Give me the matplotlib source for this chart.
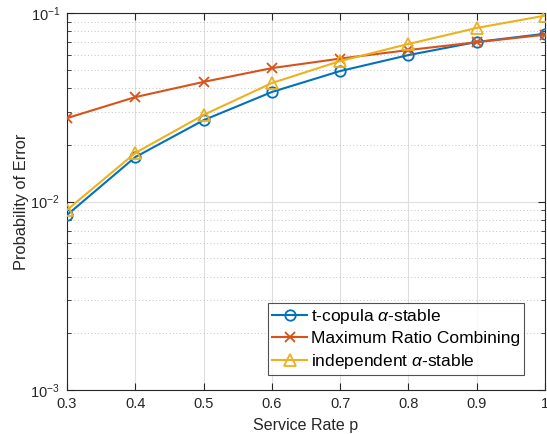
import matplotlib
matplotlib.use("Agg")
import matplotlib.pyplot as plt
from matplotlib.ticker import LogLocator, NullFormatter, FixedLocator, FixedFormatter

plt.rcParams['font.family'] = ['Liberation Sans', 'DejaVu Sans']
plt.rcParams['mathtext.fontset'] = 'custom'
plt.rcParams['mathtext.rm'] = 'Liberation Sans'
plt.rcParams['mathtext.it'] = 'Liberation Sans:italic'
plt.rcParams['mathtext.bf'] = 'Liberation Sans:bold'

service_rate = [0.3, 0.4, 0.5, 0.6, 0.7, 0.8, 0.9, 1.0]
t_copula = [0.00848, 0.0172, 0.0270, 0.0381, 0.0492, 0.0598, 0.0702, 0.0776]
mrc = [0.0277, 0.0358, 0.0431, 0.0510, 0.0573, 0.0636, 0.0700, 0.0767]
independent = [0.00902, 0.0181, 0.0288, 0.0425, 0.0556, 0.0685, 0.0833, 0.0968]
x_ticks = [0.3, 0.4, 0.5, 0.6, 0.7, 0.8, 0.9, 1.0]
x_tick_labels = ['0.3', '0.4', '0.5', '0.6', '0.7', '0.8', '0.9', '1']
y_ticks = [1e-3, 1e-2, 1e-1]
y_tick_labels = [r'$\mathregular{10^{-3}}$', r'$\mathregular{10^{-2}}$', r'$\mathregular{10^{-1}}$']

c_blue = '#0072BD'
c_red = '#D95319'
c_yel = '#EDB120'

fig = plt.figure(figsize=(5.47, 4.34), dpi=100)
ax = fig.add_axes([67/547, 1-390/434, 478/547, 377/434])

ax.plot(service_rate, t_copula, color=c_blue, marker='o', markersize=7.5, markerfacecolor='none',
        markeredgewidth=1.3, linewidth=1.5, label=r't-copula $\alpha$-stable', zorder=3)
ax.plot(service_rate, mrc, color=c_red, marker='x', markersize=7.5, markeredgewidth=1.3,
        linewidth=1.5, label='Maximum Ratio Combining', zorder=3)
ax.plot(service_rate, independent, color=c_yel, marker='^', markersize=9, markerfacecolor='none',
        markeredgewidth=1.3, linewidth=1.5, label=r'independent $\alpha$-stable', zorder=3)

ax.set_yscale('log')
ax.set_ylim(1e-3, 1e-1)
ax.set_xlim(0.3, 1.0)
ax.set_xticks(x_ticks)
ax.set_xticklabels(x_tick_labels)
ax.yaxis.set_major_locator(FixedLocator(y_ticks))
ax.yaxis.set_major_formatter(FixedFormatter(y_tick_labels))
ax.yaxis.set_minor_locator(LogLocator(base=10, subs=range(2, 10)))
ax.yaxis.set_minor_formatter(NullFormatter())

ax.grid(True, which='major', axis='both', color='#dedede', linestyle='-', linewidth=0.8, zorder=0)
ax.grid(True, which='minor', axis='y', color='#c4c4c4', linestyle=(0, (1, 2.5)), linewidth=0.7, zorder=0)
ax.set_axisbelow(True)

spine_c = '#262626'
for s in ax.spines.values():
    s.set_color(spine_c)
    s.set_linewidth(0.8)
ax.tick_params(which='both', direction='in', top=True, right=True, colors=spine_c,
               labelsize=10.5, labelcolor='#262626')
ax.tick_params(which='major', length=5, pad=5)
ax.tick_params(which='minor', length=3)

ax.set_xlabel('Service Rate p', fontsize=11.5, color='#262626', labelpad=5)
ax.set_ylabel('Probability of Error', fontsize=11.8, color='#262626', labelpad=1)

leg = ax.legend(loc='lower right', fontsize=12.5, frameon=True, fancybox=False, edgecolor='#262626',
                borderpad=0.25, labelspacing=0.3, handlelength=2.0, handletextpad=0.2,
                borderaxespad=0)
leg.set_bbox_to_anchor((524/547, 1-375/434), transform=fig.transFigure)
leg.get_frame().set_linewidth(0.8)

fig.savefig('out.png', dpi=100)
